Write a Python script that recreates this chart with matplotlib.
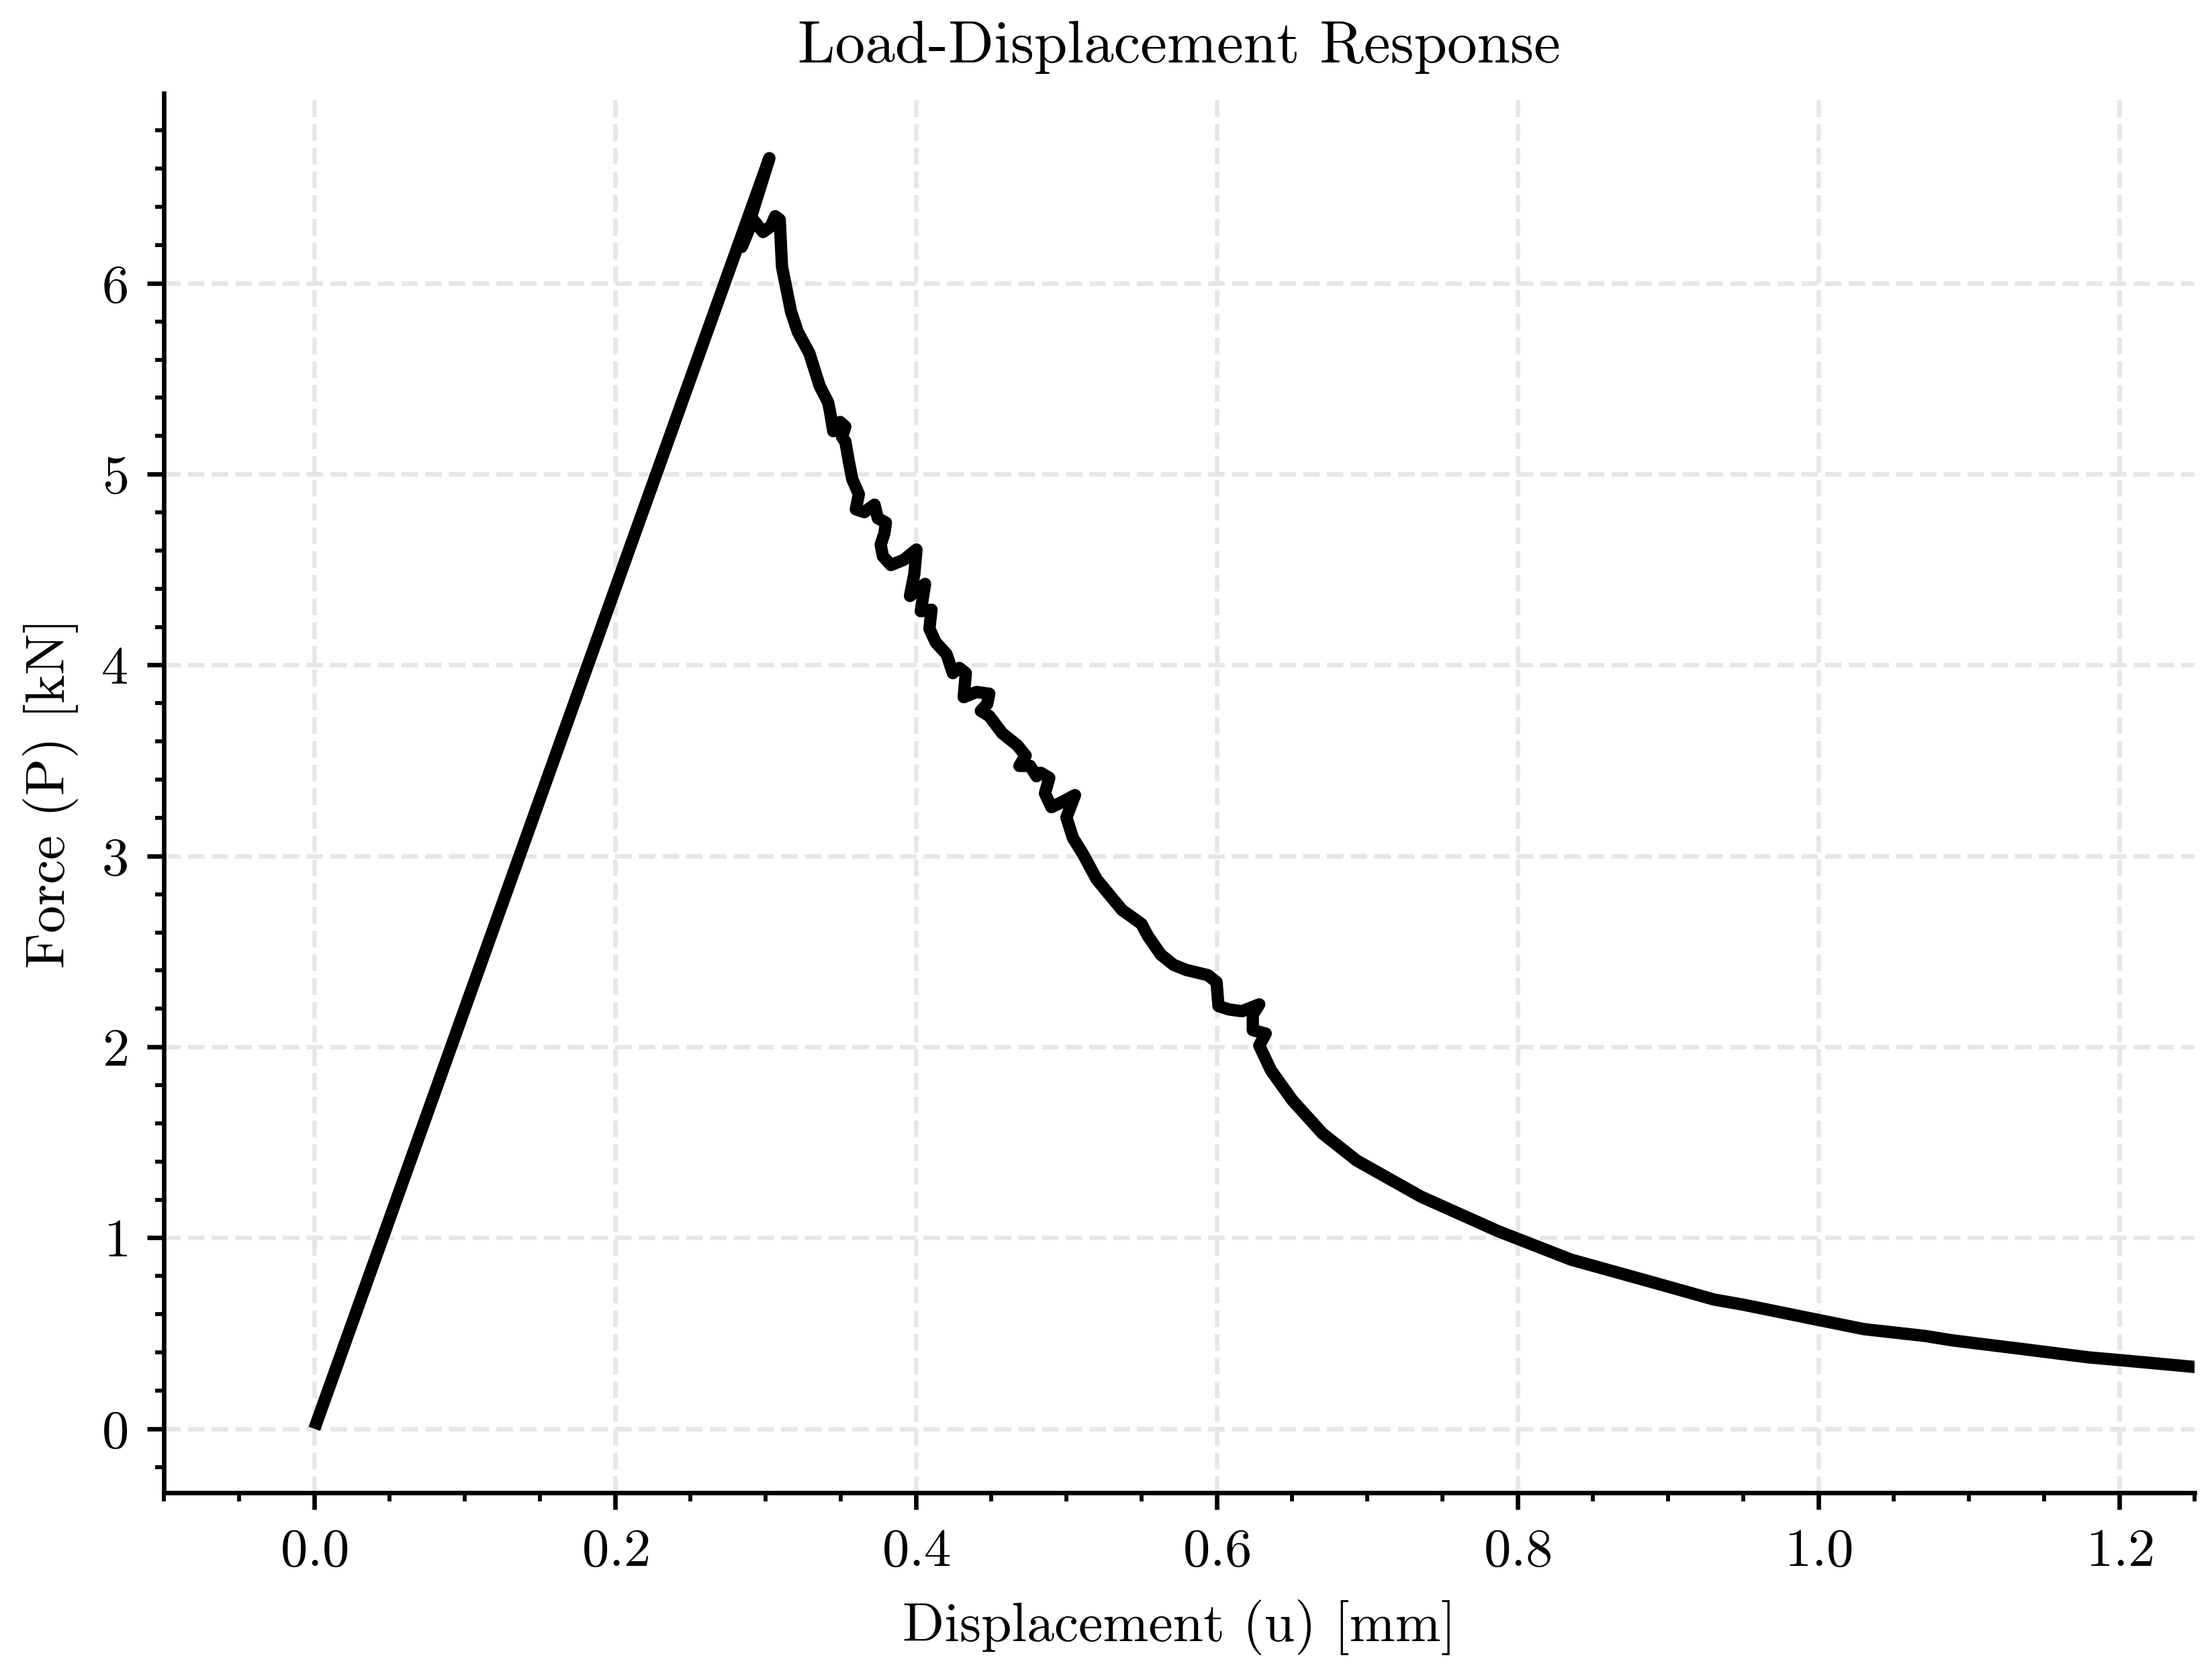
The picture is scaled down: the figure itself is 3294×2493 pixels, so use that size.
import matplotlib
matplotlib.use("Agg")
import matplotlib.pyplot as plt
from matplotlib.ticker import MultipleLocator

# Computer Modern look
plt.rcParams['font.family'] = 'serif'
plt.rcParams['font.serif'] = ['cmr10']
plt.rcParams['mathtext.fontset'] = 'cm'
plt.rcParams['axes.formatter.use_mathtext'] = True

# Load-displacement curve (u in mm, P in kN)
u = [0.0, 0.3025, 0.2841, 0.2905, 0.2923, 0.2983, 0.3035, 0.3064, 0.3094,
     0.3100, 0.3109, 0.3139, 0.3169, 0.3214, 0.329, 0.336, 0.3416, 0.3428,
     0.345, 0.3496, 0.353, 0.3508, 0.353, 0.3553, 0.3576, 0.362, 0.360,
     0.3656, 0.3724, 0.3746, 0.380, 0.379, 0.3765, 0.3780, 0.3833, 0.3918,
     0.4003, 0.3989, 0.396, 0.406, 0.4032, 0.4103, 0.4089, 0.4131, 0.4203,
     0.4245, 0.4288, 0.4331, 0.4317, 0.4402, 0.4487, 0.4473, 0.4431, 0.4487,
     0.4573, 0.4673, 0.4729, 0.4687, 0.4758, 0.4801, 0.4829, 0.4886, 0.4857,
     0.490, 0.4972, 0.5057, 0.500, 0.5043, 0.5114, 0.520, 0.5313, 0.537,
     0.5498, 0.5541, 0.5627, 0.5712, 0.5798, 0.594, 0.5998, 0.6011, 0.6083,
     0.6168, 0.6282, 0.6239, 0.6239, 0.6325, 0.6282, 0.636, 0.6503, 0.6702,
     0.693, 0.7357, 0.787, 0.8355, 0.8967, 0.9305, 0.950, 1.000, 1.0302,
     1.071, 1.0891, 1.1344, 1.1797, 1.200, 1.2499, 1.26]
P = [0.0, 6.655, 6.190, 6.310, 6.327, 6.268, 6.298, 6.351, 6.333,
     6.230, 6.086, 5.969, 5.851, 5.745, 5.635, 5.461, 5.375, 5.328,
     5.225, 5.273, 5.249, 5.194, 5.171, 5.068, 4.974, 4.895, 4.816,
     4.801, 4.840, 4.769, 4.746, 4.691, 4.630, 4.570, 4.524, 4.551,
     4.605, 4.479, 4.362, 4.425, 4.282, 4.290, 4.191, 4.119, 4.057,
     3.958, 3.985, 3.958, 3.832, 3.859, 3.850, 3.796, 3.760, 3.733,
     3.643, 3.580, 3.526, 3.472, 3.472, 3.418, 3.436, 3.409, 3.328,
     3.256, 3.283, 3.319, 3.202, 3.095, 3.005, 2.879, 2.771, 2.717,
     2.645, 2.582, 2.484, 2.430, 2.403, 2.376, 2.340, 2.214, 2.196,
     2.187, 2.223, 2.169, 2.088, 2.070, 2.007, 1.877, 1.720, 1.547,
     1.405, 1.216, 1.035, 0.886, 0.752, 0.677, 0.650, 0.570, 0.522,
     0.486, 0.463, 0.419, 0.374, 0.360, 0.324, 0.318]

fig = plt.figure(figsize=(3295 / 600, 2493 / 600), dpi=600)
ax = fig.add_axes([0.0741, 0.1085, 0.9177, 0.8358])

ax.plot(u, P, color='black', linewidth=2.2,
        solid_joinstyle='round', solid_capstyle='butt')

ax.set_xlim(-0.1, 1.25)
ax.set_ylim(-0.333, 6.995)

ax.xaxis.set_major_locator(MultipleLocator(0.2))
ax.xaxis.set_minor_locator(MultipleLocator(0.05))
ax.yaxis.set_major_locator(MultipleLocator(1))
ax.yaxis.set_minor_locator(MultipleLocator(0.2))

# Only left and bottom spines
for side in ['top', 'right']:
    ax.spines[side].set_visible(False)
for side in ['left', 'bottom']:
    ax.spines[side].set_linewidth(0.8)

ax.tick_params(which='major', direction='out', length=3, width=0.8,
               labelsize=9.7)
ax.tick_params(which='minor', direction='out', length=1.6, width=0.7)

ax.grid(True, which='major', linestyle='--', linewidth=0.8, color='#e6e6e6')

ax.set_xlabel("Displacement (u) [mm]", fontsize=9.8)
ax.set_ylabel("Force (P) [kN]", fontsize=9.8)
ax.set_title("Load-Displacement Response", fontsize=10.7, pad=5.5)

fig.savefig("out.png", dpi=600)
